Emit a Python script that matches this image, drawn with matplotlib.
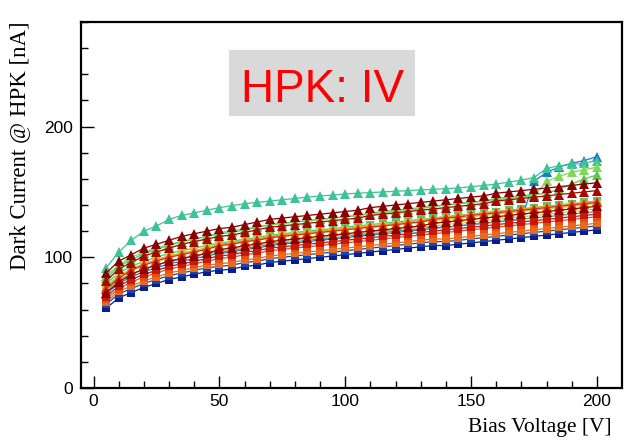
import matplotlib
matplotlib.use('Agg')
import matplotlib.pyplot as plt
from matplotlib.patches import Rectangle

# bias voltage points [V]
voltage = [5, 10, 15, 20, 25, 30, 35, 40, 45, 50, 55, 60, 65, 70, 75, 80, 85, 90, 95, 100,
           105, 110, 115, 120, 125, 130, 135, 140, 145, 150, 155, 160, 165, 170, 175, 180, 185, 190, 195, 200]

# dark current per sensor [nA]
dc_00 = [61, 69, 73, 77, 80, 83, 85, 87, 89, 90, 91, 93, 94, 96, 97, 98, 99, 100, 101, 102,
         103, 104, 105, 106, 107, 108, 109, 109, 110, 111, 112, 113, 114, 115, 116, 117, 118, 119, 120, 121]
dc_01 = [64, 72, 76, 80, 83, 86, 88, 90, 92, 93, 94, 96, 97, 99, 100, 101, 102, 103, 104, 105,
         106, 107, 108, 109, 110, 111, 112, 112, 113, 114, 115, 116, 117, 118, 119, 120, 121, 122, 123, 124]
dc_02 = [72, 80, 85, 89, 92, 95, 97, 99, 101, 103, 104, 106, 107, 109, 110, 111, 112, 113, 114, 115,
         116, 117, 118, 119, 120, 121, 122, 123, 124, 125, 126, 127, 128, 129, 158, 165, 169, 172, 174, 177]
dc_03 = [75, 83, 87, 91, 94, 97, 99, 101, 103, 104, 105, 107, 108, 110, 111, 112, 113, 114, 115, 116,
         117, 118, 119, 120, 121, 122, 123, 123, 124, 125, 126, 127, 128, 129, 130, 131, 132, 133, 134, 135]
dc_04 = [92, 104, 113, 120, 124, 129, 132, 134, 136, 138, 139.5, 141, 142, 143, 144, 145, 146, 147, 147.5, 148.5,
         149, 149.5, 150, 150.5, 151, 151.5, 152, 152.5, 153, 154, 155, 156, 157.5, 159, 161, 168, 170, 171, 172, 174]
dc_05 = [80, 88, 93, 97, 100, 103, 105, 107, 109, 111, 112, 114, 115, 117, 118, 119, 120, 121, 122, 123,
         124, 125, 126, 127, 128, 129, 130, 131, 132, 133, 134, 135, 136, 137, 138, 139, 140, 141, 142, 143]
dc_06 = [86, 94, 100, 104, 107, 110, 112, 114, 116, 119, 120, 122, 123, 125, 126, 127, 128, 129, 130, 131,
         132, 133, 134, 135, 136, 137, 139, 140, 141, 142, 143, 144, 145, 146, 147, 158, 162, 165, 167, 169]
dc_07 = [84, 93, 98, 103, 106, 109, 112, 114, 116, 118, 119, 121, 123, 125, 126, 127, 128, 129, 130, 131,
         132, 134, 135, 136, 137, 138, 139, 140, 141, 142, 143, 145, 146, 147, 148, 149, 152, 156, 160, 163]
dc_08 = [78, 86, 91, 95, 98, 101, 103, 105, 107, 109, 110, 112, 113, 115, 116, 117, 118, 119, 120, 121,
         122, 123, 124, 125, 126, 127, 128, 129, 130, 131, 132, 133, 134, 135, 136, 137, 138, 139, 140, 141]
dc_09 = [74, 82, 87, 91, 94, 97, 99, 101, 103, 105, 106, 108, 109, 111, 112, 113, 114, 115, 116, 117,
         118, 119, 120, 121, 122, 123, 124, 125, 126, 127, 128, 129, 130, 131, 132, 133, 134, 135, 136, 137]
dc_10 = [77, 85, 91, 95, 98, 101, 103, 105, 107, 110, 111, 113, 114, 116, 117, 118, 119, 120, 121, 122,
         123, 124, 125, 126, 127, 128, 130, 131, 132, 133, 134, 135, 136, 137, 138, 139, 140, 141, 142, 143]
dc_11 = [66, 74, 78, 82, 85, 88, 90, 92, 94, 95, 96, 98, 99, 101, 102, 103, 104, 105, 106, 107,
         108, 109, 110, 111, 112, 113, 114, 114, 115, 116, 117, 118, 119, 120, 121, 122, 123, 124, 125, 126]
dc_12 = [68, 76, 81, 85, 88, 91, 93, 95, 97, 99, 100, 102, 103, 105, 106, 107, 108, 109, 110, 111,
         112, 113, 114, 115, 116, 117, 118, 119, 120, 121, 122, 123, 124, 125, 126, 127, 128, 129, 130, 131]
dc_13 = [76, 84, 90, 94, 97, 100, 102, 104, 106, 109, 110, 112, 113, 115, 116, 117, 118, 119, 120, 121,
         122, 123, 124, 125, 126, 127, 129, 130, 131, 132, 133, 134, 135, 136, 137, 138, 139, 140, 141, 142]
dc_14 = [70, 78, 83, 87, 90, 93, 95, 97, 99, 101, 102, 104, 105, 107, 108, 109, 110, 111, 112, 113,
         114, 115, 116, 117, 118, 119, 120, 121, 122, 123, 124, 125, 126, 127, 128, 129, 130, 131, 132, 133]
dc_15 = [82, 91, 96, 101, 104, 107, 110, 112, 114, 116, 117, 119, 121, 123, 124, 125, 126, 127, 128, 129,
         130, 132, 133, 134, 135, 136, 137, 138, 139, 140, 141, 143, 144, 145, 146, 147, 148, 149, 150, 151]
dc_16 = [73, 81, 87, 91, 94, 97, 99, 101, 103, 106, 107, 109, 110, 112, 113, 114, 115, 116, 117, 118,
         119, 120, 121, 122, 123, 124, 126, 127, 128, 129, 130, 131, 132, 133, 134, 135, 136, 137, 138, 139]
dc_17 = [88, 97, 102, 107, 110, 113, 116, 118, 120, 122, 123, 125, 127, 129, 130, 131, 132, 133, 134, 135,
         136, 138, 139, 140, 141, 142, 143, 144, 145, 146, 147, 149, 150, 151, 152, 153, 154, 155, 156, 157]

curves = [dc_00, dc_01, dc_02, dc_03, dc_04, dc_05, dc_06, dc_07, dc_08,
          dc_09, dc_10, dc_11, dc_12, dc_13, dc_14, dc_15, dc_16, dc_17]

colors = ['#0b1d8c', '#1448b0', '#1f78c8', '#2aa0c8', '#3cc494', '#48c878', '#7ed85a', '#5cc850', '#b8d040',
          '#e0c020', '#e8a020', '#e86a1c', '#e05018', '#d42c10', '#c81808', '#a80800', '#900000', '#880000']
markers = ['s', 's', '^', 's', '^', 's', '^', '^', 's', 's', '^', 's', 's', '^', 's', '^', '^', '^']

fig = plt.figure(figsize=(6.26, 4.40), dpi=100)
ax = fig.add_axes([81 / 626, 52 / 440, 541 / 626, 366 / 440])

for dc, c, m in zip(curves, colors, markers):
    ms = 7.8 if m == '^' else 6.2
    ax.plot(voltage, dc, color=c, marker=m, markersize=ms, linewidth=0.9,
            markeredgewidth=0)

ax.set_xlim(-5, 210)
ax.set_ylim(0, 280)
ax.set_xticks([0, 50, 100, 150, 200])
ax.set_xticks(range(0, 210, 10), minor=True)
ax.set_yticks([0, 100, 200])
ax.set_yticks(range(0, 281, 20), minor=True)
ax.tick_params(which='both', direction='in', top=False, right=False, width=1,
               labelsize=12.5, labelfontfamily='Liberation Sans')
ax.tick_params(which='major', length=9)
ax.tick_params(which='minor', length=5)
ax.tick_params(axis='x', pad=4)
ax.tick_params(axis='y', pad=6)
for sp in ax.spines.values():
    sp.set_linewidth(1.6)

fig.text(612 / 626, 3 / 440, 'Bias Voltage [V]', ha='right', va='bottom',
         family='Liberation Serif', fontsize=15.5)
fig.text(9 / 626, (440 - 21) / 440, 'Dark Current @ HPK [nA]', rotation=90, ha='left', va='top',
         family='Liberation Serif', fontsize=16.5)

# title box
fig.patches.append(Rectangle((229 / 626, (440 - 116) / 440), 186 / 626, 66 / 440,
                             transform=fig.transFigure, facecolor='#d9d9d9', edgecolor='none', zorder=5))
fig.text(323 / 626, (440 - 102) / 440, 'HPK: IV', color='red', ha='center', va='baseline',
         family='Liberation Sans', fontsize=33, zorder=6)

fig.savefig('out.png', dpi=100)
